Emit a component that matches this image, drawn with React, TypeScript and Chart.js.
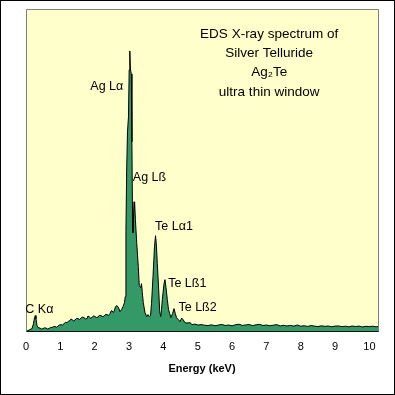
import React, { useEffect, useRef } from "react";
import { Chart, registerables } from "chart.js";

Chart.register(...registerables);

// Energy (keV) sample positions of the spectrum
const energies = [
  0.0, 0.058, 0.116, 0.175, 0.218, 0.248, 0.271, 0.291, 0.32, 0.349, 0.408, 0.45, 0.495, 0.54,
  0.582, 0.63, 0.67, 0.71, 0.757, 0.8, 0.845, 0.89, 0.932, 0.975, 1.019, 1.06, 1.107, 1.15,
  1.194, 1.24, 1.281, 1.31, 1.34, 1.38, 1.427, 1.47, 1.514, 1.56, 1.602, 1.645, 1.689, 1.73,
  1.776, 1.805, 1.835, 1.88, 1.922, 1.965, 2.009, 2.05, 2.097, 2.14, 2.184, 2.23, 2.271, 2.315,
  2.359, 2.4, 2.446, 2.475, 2.504, 2.535, 2.563, 2.606, 2.65, 2.694, 2.737, 2.781, 2.825,
  2.868, 2.89, 2.91, 2.931, 2.955, 2.984, 3.004, 3.023, 3.041, 3.066, 3.084, 3.098, 3.113,
  3.136, 3.163, 3.186, 3.224, 3.27, 3.299, 3.34, 3.363, 3.387, 3.416, 3.465, 3.515, 3.553,
  3.596, 3.626, 3.655, 3.698, 3.742, 3.771, 3.794, 3.824, 3.864, 3.893, 3.923, 3.946, 3.969,
  4.019, 4.048, 4.077, 4.115, 4.15, 4.185, 4.222, 4.266, 4.31, 4.348, 4.383, 4.435, 4.485,
  4.534, 4.572, 4.63, 4.688, 4.776, 4.834, 4.922, 5.009, 5.096, 5.2, 5.3, 5.4, 5.5, 5.6, 5.7,
  5.8, 5.9, 6.0, 6.1, 6.2, 6.3, 6.4, 6.5, 6.6, 6.7, 6.8, 6.9, 7.0, 7.1, 7.2, 7.3, 7.4, 7.5,
  7.6, 7.7, 7.8, 7.9, 8.0, 8.1, 8.2, 8.3, 8.4, 8.5, 8.6, 8.7, 8.8, 8.9, 9.0, 9.1, 9.2, 9.3,
  9.4, 9.5, 9.6, 9.7, 9.8, 9.9, 10.0, 10.1, 10.2, 10.25,
];

// Counts (relative) at each energy
const counts = [
  0, 1, 2, 3, 8, 14, 16, 13, 6, 4, 3.5, 2.6, 3, 3.8,
  3.5, 2.7, 3, 4.2, 4, 5.1, 5, 4.4, 5.5, 6.6, 7, 6.5, 8, 9.2,
  9, 10.4, 11, 12.6, 12, 10.8, 11.5, 13.2, 13, 12.2, 13.5, 14.6, 14, 12.8,
  13, 15.6, 15, 13.6, 14, 15.8, 15, 14.2, 14.5, 16.4, 16, 15, 15.5, 17.2,
  17, 16.2, 18, 20.5, 21, 19.2, 20, 25, 26, 24, 20, 22, 25,
  29, 35, 100, 160, 200, 215, 262, 281, 263, 258, 190, 130, 99,
  118, 130, 112, 89, 65, 46, 44, 48, 39, 29, 19, 15, 17,
  15, 16, 28, 55, 85, 96, 88, 68, 42, 20, 15, 22, 32,
  48, 52, 44, 32, 22, 18, 14, 18, 23, 18, 14, 12, 10,
  13.5, 12, 9, 8.5, 9, 7, 7.5, 6.5, 7, 6.4, 6.0, 6.8, 5.9, 6.5, 7.2,
  6.1, 6.6, 5.8, 6.9, 7.4, 6.2, 6.7, 7.0, 6.0, 6.8, 7.3, 6.1, 6.6, 5.9, 6.4, 7.0, 5.7, 6.3,
  5.6, 6.2, 5.5, 6.6, 5.4, 5.9, 5.2, 6.0, 5.5, 5.0, 5.8, 5.3, 5.6, 4.9, 5.5, 5.7, 5.0, 5.4,
  4.8, 5.6, 5.1, 5.5, 4.7, 5.3, 5.0, 5.4, 4.8, 5.2,
];

// Peak labels and their anchor (energy, counts)
const peakLabels = ["C K\u03b1", "Ag L\u03b1", "Ag L\u00df", "Te L\u03b11", "Te L\u00df1", "Te L\u00df2"];
const peakLabelEnergy = [-0.02, 2.833, 3.11, 3.76, 4.14, 4.44];
const peakLabelCounts = [19, 242, 151, 102, 45, 20.5];
const peakLabelAlign = ["left", "right", "left", "left", "left", "left"];

// Title block lines, anchored in data space
const titleLines = ["EDS X-ray spectrum of", "Silver Telluride", "Ag\u2082Te", "ultra thin window"];
const titleEnergy = 7.08;
const titleCounts = [294, 275.3, 256, 236];

const xMin = 0;
const xMax = 10.25;
const yMax = 323;

export default function App() {
  const ref = useRef<HTMLCanvasElement | null>(null);

  useEffect(() => {
    const canvas = ref.current;
    if (!canvas) return;

    const framePlugin = {
      id: "frame",
      beforeDraw(chart: any) {
        const { ctx, chartArea, width, height } = chart;
        ctx.save();
        ctx.fillStyle = "#ffffff";
        ctx.fillRect(0, 0, width, height);
        ctx.strokeStyle = "#000000";
        ctx.lineWidth = 1;
        ctx.strokeRect(0.5, 0.5, width - 1, height - 1);
        ctx.fillStyle = "#ffffcc";
        ctx.fillRect(chartArea.left, chartArea.top, chartArea.right - chartArea.left, chartArea.bottom - chartArea.top);
        ctx.restore();
      },
      afterDraw(chart: any) {
        const { ctx, chartArea, scales } = chart;
        const xs = scales.x;
        const ys = scales.y;
        ctx.save();
        ctx.strokeStyle = "#808080";
        ctx.lineWidth = 1;
        ctx.beginPath();
        ctx.moveTo(chartArea.left + 0.5, chartArea.bottom);
        ctx.lineTo(chartArea.left + 0.5, chartArea.top + 0.5);
        ctx.lineTo(chartArea.right + 0.5, chartArea.top + 0.5);
        ctx.lineTo(chartArea.right + 0.5, chartArea.bottom);
        ctx.stroke();

        ctx.fillStyle = "#000000";
        ctx.textBaseline = "alphabetic";
        ctx.font = '12.5px "Liberation Sans", Arial, sans-serif';
        peakLabels.forEach((t, i) => {
          ctx.textAlign = peakLabelAlign[i] as CanvasTextAlign;
          ctx.fillText(t, xs.getPixelForValue(peakLabelEnergy[i]), ys.getPixelForValue(peakLabelCounts[i]));
        });
        ctx.font = '13.5px "Liberation Sans", Arial, sans-serif';
        ctx.textAlign = "center";
        titleLines.forEach((t, i) => {
          ctx.fillText(t, xs.getPixelForValue(titleEnergy), ys.getPixelForValue(titleCounts[i]));
        });
        ctx.restore();
      },
    };

    const chart = new Chart(canvas, {
      type: "line",
      data: {
        datasets: [
          {
            data: energies.map((e, i) => ({ x: e, y: counts[i] })),
            borderColor: "#000000",
            borderWidth: 1,
            backgroundColor: "#339966",
            fill: "origin",
            pointRadius: 0,
            tension: 0,
          },
        ],
      },
      options: {
        animation: false,
        responsive: false,
        maintainAspectRatio: false,
        devicePixelRatio: 1,
        layout: { padding: { left: 26, right: 17, top: 9, bottom: 0 } },
        plugins: { legend: { display: false }, tooltip: { enabled: false }, title: { display: false } },
        scales: {
          x: {
            type: "linear",
            min: xMin,
            max: xMax,
            z: 1,
            grid: { display: false, drawTicks: false },
            border: { display: true, color: "#000000", width: 1 },
            ticks: {
              stepSize: 1,
              includeBounds: false,
              autoSkip: false,
              maxRotation: 0,
              padding: 9,
              color: "#000000",
              font: { family: '"Liberation Sans", Arial, sans-serif', size: 11 },
            },
            title: {
              display: true,
              text: "Energy (keV)",
              color: "#000000",
              font: { family: '"Liberation Sans", Arial, sans-serif', size: 11, weight: "bold" },
              padding: { top: 0, bottom: 19 },
            },
          },
          y: { display: false, min: 0, max: yMax },
        },
      },
      plugins: [framePlugin],
    } as any);

    return () => chart.destroy();
  }, []);

  return (
    <div style={{ position: "fixed", left: 0, top: 0, width: 395, height: 395 }}>
      <canvas ref={ref} width={395} height={395} style={{ display: "block" }} />
    </div>
  );
}
